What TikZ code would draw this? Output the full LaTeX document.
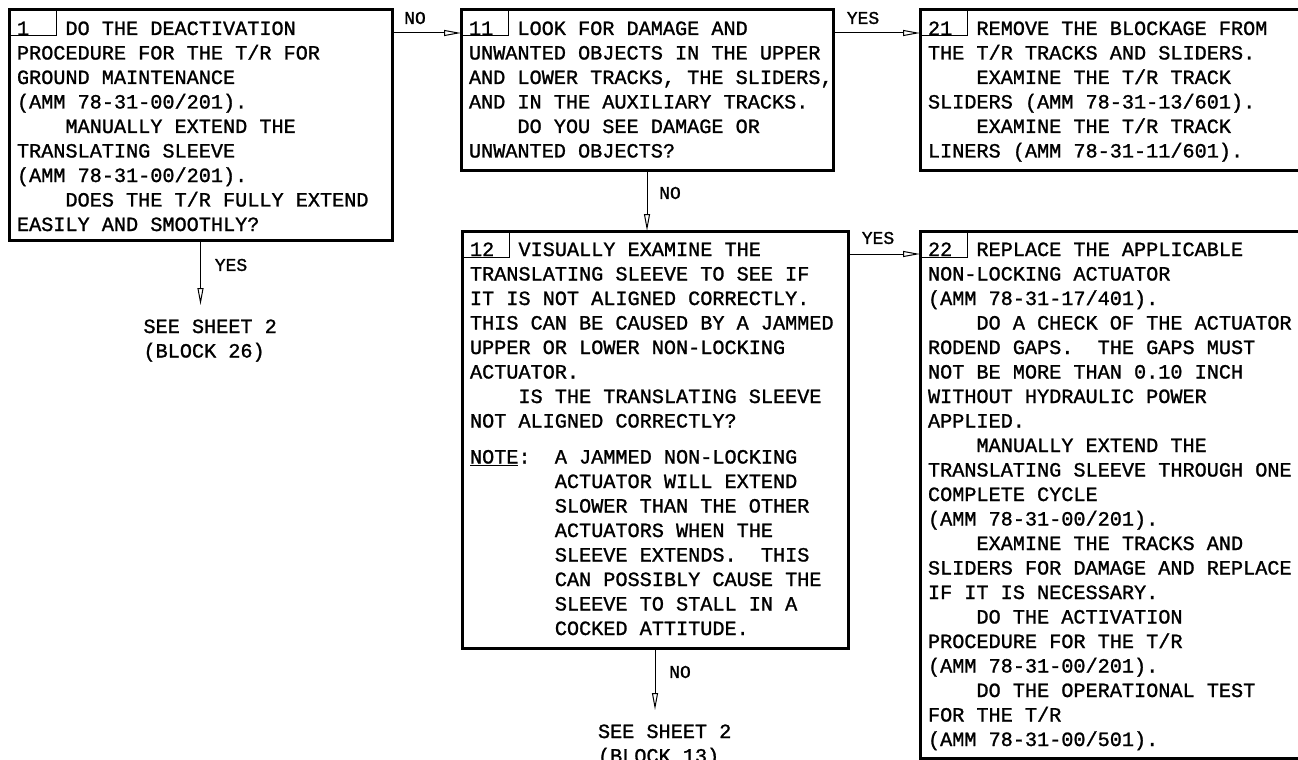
\documentclass[tikz,border=0pt]{standalone}
\usepackage{fontspec}
\newfontfamily\monofont[FakeBold=1.2]{Liberation Mono}
\usetikzlibrary{arrows.meta}
\newcommand\boxfont{\monofont\fontsize{20.2pt}{24.5pt}\selectfont\frenchspacing}
\newcommand\lblfont{\monofont\fontsize{18pt}{22pt}\selectfont}
\newcommand\myind{\hphantom{0000}}
\newcommand\mynote{\hphantom{0000000}}
\begin{document}
\begin{tikzpicture}[x=1pt,y=-1pt,
  box/.style={draw, line width=3pt, inner sep=0pt, outer sep=0pt, anchor=north west},
  numbox/.style={draw, line width=1pt, inner sep=0pt, outer sep=0pt, anchor=north west, minimum width=47pt, minimum height=26pt},
  txt/.style={inner sep=0pt, outer sep=0pt, anchor=base west, font=\boxfont},
  lbl/.style={inner sep=0pt, font=\lblfont},
  arr/.style={line width=1pt, -{Triangle[open,length=17pt,width=6pt]}}]
\useasboundingbox (0,0) rectangle (1298,760);

% boxes
\node[box, minimum width=383pt, minimum height=230pt] (b1) at (9,10) {};
\node[box, minimum width=372pt, minimum height=160pt] (b11) at (461,10) {};
\node[box, minimum width=400pt, minimum height=160pt] (b21) at (920,10) {};
\node[box, minimum width=386pt, minimum height=417pt] (b12) at (462,231) {};
\node[box, minimum width=400pt, minimum height=527pt] (b22) at (920,231) {};

% number boxes
\node[numbox] (n1) at (b1.north west) {};
\node[numbox] (n11) at (b11.north west) {};
\node[numbox] (n21) at (b21.north west) {};
\node[numbox] (n12) at (b12.north west) {};
\node[numbox] (n22) at (b22.north west) {};

% texts
\node[txt] (t1) at ([xshift=8pt,yshift=-25pt]b1.north west) {\parbox[t]{380pt}{%
1\hphantom{000}DO THE DEACTIVATION\\
PROCEDURE FOR THE T/R FOR\\
GROUND MAINTENANCE\\
(AMM 78-31-00/201).\\
\myind MANUALLY EXTEND THE\\
TRANSLATING SLEEVE\\
(AMM 78-31-00/201).\\
\myind DOES THE T/R FULLY EXTEND\\
EASILY AND SMOOTHLY?}};

\node[txt] (t11) at ([xshift=8pt,yshift=-25pt]b11.north west) {\parbox[t]{380pt}{%
11\hphantom{00}LOOK FOR DAMAGE AND\\
UNWANTED OBJECTS IN THE UPPER\\
AND LOWER TRACKS, THE SLIDERS,\\
AND IN THE AUXILIARY TRACKS.\\
\myind DO YOU SEE DAMAGE OR\\
UNWANTED OBJECTS?}};

\node[txt] (t21) at ([xshift=8pt,yshift=-25pt]b21.north west) {\parbox[t]{380pt}{%
21\hphantom{00}REMOVE THE BLOCKAGE FROM\\
THE T/R TRACKS AND SLIDERS.\\
\myind EXAMINE THE T/R TRACK\\
SLIDERS (AMM 78-31-13/601).\\
\myind EXAMINE THE T/R TRACK\\
LINERS (AMM 78-31-11/601).}};

\node[txt] (t12) at ([xshift=8pt,yshift=-25pt]b12.north west) {\parbox[t]{380pt}{%
12\hphantom{00}VISUALLY EXAMINE THE\\
TRANSLATING SLEEVE TO SEE IF\\
IT IS NOT ALIGNED CORRECTLY.\\
THIS CAN BE CAUSED BY A JAMMED\\
UPPER OR LOWER NON-LOCKING\\
ACTUATOR.\\
\myind IS THE TRANSLATING SLEEVE\\
NOT ALIGNED CORRECTLY?\\[11.5pt]
\underline{NOTE}:\hphantom{00}A JAMMED NON-LOCKING\\
\mynote ACTUATOR WILL EXTEND\\
\mynote SLOWER THAN THE OTHER\\
\mynote ACTUATORS WHEN THE\\
\mynote SLEEVE EXTENDS.\hphantom{00}THIS\\
\mynote CAN POSSIBLY CAUSE THE\\
\mynote SLEEVE TO STALL IN A\\
\mynote COCKED ATTITUDE.}};

\node[txt] (t22) at ([xshift=8pt,yshift=-25pt]b22.north west) {\parbox[t]{380pt}{%
22\hphantom{00}REPLACE THE APPLICABLE\\
NON-LOCKING ACTUATOR\\
(AMM 78-31-17/401).\\
\myind DO A CHECK OF THE ACTUATOR\\
RODEND GAPS.\hphantom{00}THE GAPS MUST\\
NOT BE MORE THAN 0.10 INCH\\
WITHOUT HYDRAULIC POWER\\
APPLIED.\\
\myind MANUALLY EXTEND THE\\
TRANSLATING SLEEVE THROUGH ONE\\
COMPLETE CYCLE\\
(AMM 78-31-00/201).\\
\myind EXAMINE THE TRACKS AND\\
SLIDERS FOR DAMAGE AND REPLACE\\
IF IT IS NECESSARY.\\
\myind DO THE ACTIVATION\\
PROCEDURE FOR THE T/R\\
(AMM 78-31-00/201).\\
\myind DO THE OPERATIONAL TEST\\
FOR THE T/R\\
(AMM 78-31-00/501).}};

% free ends
\coordinate (e1) at ([yshift=-65pt]b1.south);
\coordinate (e12) at ([yshift=-62pt]b12.south);

\node[txt] (s26) at ([xshift=-57pt,yshift=-28pt]e1) {\parbox[t]{200pt}{SEE SHEET 2\\(BLOCK 26)}};
\node[txt] (s13) at ([xshift=-57pt,yshift=-28pt]e12) {\parbox[t]{200pt}{SEE SHEET 2\\(BLOCK 13)}};

% connectors
\draw[arr] ([yshift=-23pt]b1.north east) -- ([yshift=-23pt]b11.north west);
\draw[arr] ([yshift=-23pt]b11.north east) -- ([yshift=-23pt]b21.north west);
\draw[arr] ([yshift=-23pt]b12.north east) -- ([yshift=-23pt]b22.north west);
\draw[arr] (b11.south) -- (b11.south |- b12.north);
\draw[arr] (b1.south) -- (e1);
\draw[arr] (b12.south) -- (e12);

% labels
\node[lbl] (l1) at (415,18) {NO};
\node[lbl] (l2) at (863,18) {YES};
\node[lbl] (l3) at (670,193) {NO};
\node[lbl] (l4) at (231,265) {YES};
\node[lbl] (l5) at (878,238) {YES};
\node[lbl] (l6) at (680,672) {NO};
\end{tikzpicture}
\end{document}
